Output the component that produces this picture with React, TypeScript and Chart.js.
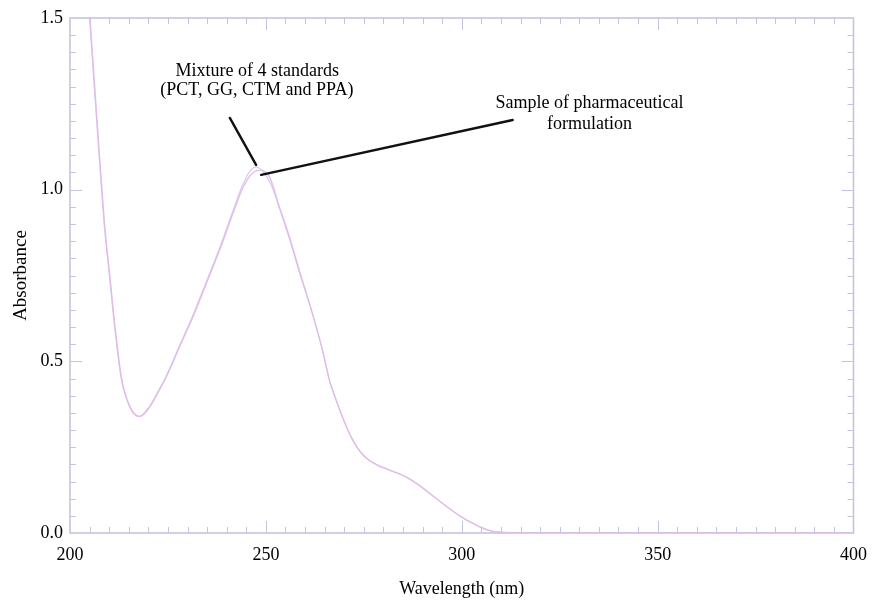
import React, { useEffect, useRef } from "react";
import { Chart, registerables } from "chart.js";

Chart.register(...registerables);

// ---- data ----
const sampleWavelength = [204.7, 205.1, 206.3, 207.6, 208.9, 210.2, 211.5, 213.1, 215.3, 217.8, 220.4, 222.5, 224.6, 228.0, 231.4, 234.8, 238.2, 241.6, 244.1, 246.3, 248.6, 250.9, 253.4, 256.0, 258.5, 260.6, 262.5, 264.4, 266.2, 268.0, 270.0, 272.0, 274.0, 276.0, 278.5, 281.0, 283.5, 286.0, 289.0, 291.5, 294.0, 297.0, 300.0, 302.5, 305.0, 307.5, 310.0, 315.0, 330.0, 360.0, 400.0];
const sampleAbsorbance = [1.57, 1.50, 1.30, 1.087, 0.89, 0.745, 0.60, 0.455, 0.368, 0.339, 0.368, 0.410, 0.455, 0.543, 0.630, 0.727, 0.824, 0.931, 1.005, 1.045, 1.057, 1.038, 0.951, 0.863, 0.766, 0.688, 0.615, 0.535, 0.446, 0.385, 0.325, 0.275, 0.238, 0.215, 0.198, 0.186, 0.175, 0.162, 0.140, 0.118, 0.096, 0.070, 0.046, 0.030, 0.016, 0.006, 0.002, 0.0, 0.0, 0.0, 0.0];

const standardWavelength = [204.6, 205.0, 206.2, 207.5, 208.8, 210.1, 211.4, 213.0, 215.2, 217.7, 220.3, 222.4, 224.5, 227.9, 231.3, 234.7, 238.1, 241.5, 244.0, 246.0, 247.5, 249.5, 251.5, 253.8, 256.2, 258.6, 260.7, 262.6, 264.5, 266.3, 268.1, 270.1, 272.1, 274.1, 276.1, 278.6, 281.1, 283.6, 286.1, 289.1, 291.6, 294.1, 297.1, 300.1, 302.6, 305.1, 307.6, 310.1, 315.0, 330.0, 360.0, 400.0];
const standardAbsorbance = [1.57, 1.50, 1.30, 1.087, 0.89, 0.745, 0.60, 0.455, 0.368, 0.340, 0.369, 0.411, 0.456, 0.544, 0.632, 0.729, 0.827, 0.935, 1.012, 1.055, 1.066, 1.050, 1.010, 0.935, 0.850, 0.758, 0.682, 0.610, 0.530, 0.442, 0.382, 0.322, 0.272, 0.236, 0.214, 0.197, 0.185, 0.174, 0.161, 0.139, 0.117, 0.095, 0.069, 0.045, 0.029, 0.015, 0.005, 0.002, 0.0, 0.0, 0.0, 0.0];

const xTickValues = [200, 250, 300, 350, 400];
const yTickValues = [0, 0.5, 1.0, 1.5];

// annotation text & leader lines (data units)
const annotationTexts = [
  { text: "Mixture of 4 standards", x: 247.8, y: 1.344 },
  { text: "(PCT, GG, CTM and PPA)", x: 247.7, y: 1.289 },
  { text: "Sample of pharmaceutical", x: 332.6, y: 1.252 },
  { text: "formulation", x: 332.6, y: 1.191 },
];
const leaderLines = [
  { x1: 240.8, y1: 1.209, x2: 247.5, y2: 1.072 },
  { x1: 248.8, y1: 1.043, x2: 313.0, y2: 1.203 },
];

const FONT = '"Liberation Serif", "Times New Roman", serif';
const FRAME_COLOR = "rgb(196,196,224)";

const frameTicksPlugin = {
  id: "frameTicks",
  beforeDatasetsDraw(chart: any) {
    const { ctx, chartArea: a, scales } = chart;
    const x = scales.x;
    const y = scales.y;
    ctx.save();
    ctx.strokeStyle = FRAME_COLOR;
    ctx.lineWidth = 1.6;
    ctx.strokeRect(a.left, a.top, a.right - a.left, a.bottom - a.top);
    ctx.lineWidth = 1;
    const seg = (x1: number, y1: number, x2: number, y2: number) => {
      ctx.beginPath();
      ctx.moveTo(x1, y1);
      ctx.lineTo(x2, y2);
      ctx.stroke();
    };
    for (let i = 1; i < 40; i++) {
      const v = 200 + i * 5;
      const px = Math.round(x.getPixelForValue(v)) + 0.5;
      const len = i % 10 === 0 ? 12 : 6;
      seg(px, a.bottom, px, a.bottom - len);
      seg(px, a.top, px, a.top + len);
    }
    for (let i = 1; i < 30; i++) {
      const v = i * 0.05;
      const py = Math.round(y.getPixelForValue(v)) + 0.5;
      const len = i % 10 === 0 ? 12 : 6;
      seg(a.left, py, a.left + len, py);
      seg(a.right, py, a.right - len, py);
    }
    ctx.restore();
  },
  afterDatasetsDraw(chart: any) {
    const { ctx, scales } = chart;
    const x = scales.x;
    const y = scales.y;
    ctx.save();
    ctx.strokeStyle = "#111";
    ctx.lineWidth = 2.4;
    ctx.lineCap = "round";
    leaderLines.forEach((l) => {
      ctx.beginPath();
      ctx.moveTo(x.getPixelForValue(l.x1), y.getPixelForValue(l.y1));
      ctx.lineTo(x.getPixelForValue(l.x2), y.getPixelForValue(l.y2));
      ctx.stroke();
    });
    ctx.fillStyle = "#000";
    ctx.font = `18px ${FONT}`;
    ctx.textAlign = "center";
    ctx.textBaseline = "middle";
    annotationTexts.forEach((t) => {
      ctx.fillText(t.text, x.getPixelForValue(t.x), y.getPixelForValue(t.y));
    });
    ctx.restore();
  },
};

export default function App() {
  const canvasRef = useRef<HTMLCanvasElement | null>(null);

  useEffect(() => {
    document.body.style.margin = "0";
    const canvas = canvasRef.current;
    if (!canvas) return;
    const chart = new Chart(canvas, {
      type: "line",
      data: {
        datasets: [
          {
            label: "Sample of pharmaceutical formulation",
            data: sampleWavelength.map((w, i) => ({ x: w, y: sampleAbsorbance[i] })),
            borderColor: "rgba(228,186,230,0.95)",
            borderWidth: 1.4,
            pointRadius: 0,
            fill: false,
            cubicInterpolationMode: "monotone",
            clip: 0,
          },
          {
            label: "Mixture of 4 standards",
            data: standardWavelength.map((w, i) => ({ x: w, y: standardAbsorbance[i] })),
            borderColor: "rgba(198,192,242,0.8)",
            borderWidth: 1.2,
            pointRadius: 0,
            fill: false,
            cubicInterpolationMode: "monotone",
            clip: 0,
          },
        ],
      },
      options: {
        animation: false,
        responsive: false,
        layout: { padding: { top: 18, right: 22, left: 0, bottom: 0 } },
        plugins: { legend: { display: false }, tooltip: { enabled: false } },
        scales: {
          x: {
            type: "linear",
            min: 200,
            max: 400,
            afterBuildTicks: (scale: any) => {
              scale.ticks = xTickValues.map((v) => ({ value: v }));
            },
            ticks: { color: "#000", font: { family: FONT, size: 18 }, padding: 11, maxRotation: 0 },
            grid: { display: false, drawTicks: false },
            border: { display: false },
            title: {
              display: true,
              text: "Wavelength (nm)",
              color: "#000",
              font: { family: FONT, size: 18 },
              padding: { top: 0, bottom: 0 },
            },
            afterFit: (scale: any) => {
              scale.height = 67;
            },
          },
          y: {
            type: "linear",
            min: 0,
            max: 1.5,
            afterBuildTicks: (scale: any) => {
              scale.ticks = yTickValues.map((v) => ({ value: v }));
            },
            ticks: {
              color: "#000",
              font: { family: FONT, size: 18 },
              padding: 7,
              callback: (v: any) => Number(v).toFixed(1),
            },
            grid: { display: false, drawTicks: false },
            border: { display: false },
            title: {
              display: true,
              text: "Absorbance",
              color: "#000",
              font: { family: FONT, size: 19 },
              padding: { top: 10, bottom: 0 },
            },
            afterFit: (scale: any) => {
              scale.width = 70;
            },
          },
        },
      },
      plugins: [frameTicksPlugin],
    } as any);
    return () => chart.destroy();
  }, []);

  return (
    <div style={{ width: 878, height: 600, background: "#fff" }}>
      <canvas ref={canvasRef} width={878} height={600} style={{ display: "block" }} />
    </div>
  );
}
